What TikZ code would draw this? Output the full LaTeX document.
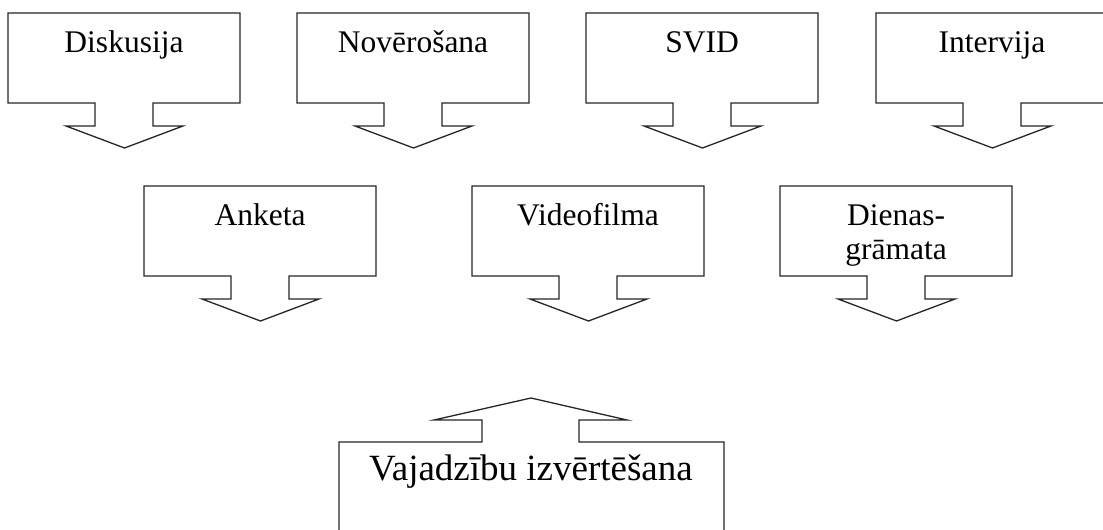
\documentclass[tikz,border=0pt]{standalone}
\usepackage{fontspec}
\setmainfont{Liberation Serif}
\begin{document}
\begin{tikzpicture}[x=1pt, y=1pt, line join=miter]
\tikzset{
  callbox/.style={draw=black!85, line width=1.3pt, fill=white},
  boxlab/.style={font=\fontsize{31.5}{34}\selectfont, inner sep=0pt, anchor=base, align=center},
}
\clip (0,0) rectangle (1103,530);
% ---- boxes with an arrow pointing down ----
\foreach \x/\t/\dy/\n/\lab in {8/517/0/diskusija/Diskusija, 297/517/0/noverosana/Novērošana,
    586/517/0/svid/SVID, 876/517/0/intervija/Intervija, 144/344/0/anketa/Anketa,
    472/344/0/videofilma/Videofilma, 780/344/34/dienasgramata/{Dienas-\\grāmata}} {
  \draw[callbox] (\x,\t) -- ++(232,0) -- ++(0,-90) -- ++(-87,0) -- ++(0,-23) -- ++(30,0)
    -- ++(-58.5,-22) -- ++(-58.5,22) -- ++(29,0) -- ++(0,23) -- ++(-87,0) -- cycle;
  \node[boxlab] (\n) at (\x+116,\t-40-\dy) {\lab};
}
% ---- box with an arrow pointing up ----
\draw[callbox] (339,-20) -- (339,88) -- (482,88) -- (482,110) -- (434,110) -- (531,132)
  -- (627,110) -- (579,110) -- (579,88) -- (724,88) -- (724,-20);
\node[boxlab, font=\fontsize{37}{40}\selectfont] (vajadzibu) at (531,49) {Vajadzību izvērtēšana};
\end{tikzpicture}
\end{document}
